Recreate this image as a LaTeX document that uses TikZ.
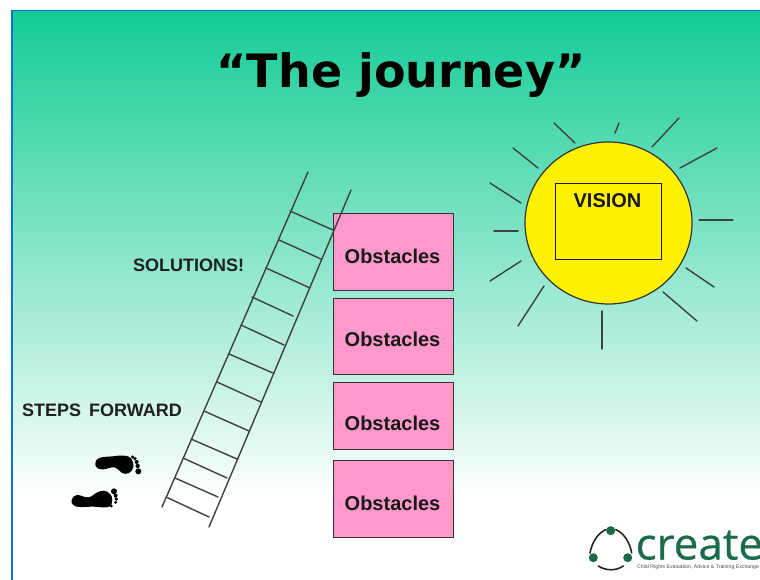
\documentclass[tikz,border=0pt]{standalone}
\usepackage{fontspec}
\setmainfont{Liberation Sans}
\newfontfamily\logofont[FakeBold=0.5]{Open Sans}
\newfontfamily\titlefont{DejaVu Sans}
\definecolor{topgreen}{HTML}{14CC96}
\definecolor{midgreen}{HTML}{A0E0C3}
\definecolor{frameblue}{HTML}{0A72C8}
\definecolor{pinkbox}{HTML}{FF99CC}
\definecolor{logogreen}{HTML}{1B6B4A}
\tikzset{
  x=1pt,y=-1pt,
  line/.style={draw=black!75,line width=1.4pt,line cap=round},
  obstacle/.style={draw=black!80,line width=1.4pt,fill=pinkbox,minimum width=120pt,inner sep=0pt},
  obstaclelabel/.style={font=\fontsize{20}{22}\selectfont\bfseries,text=black!90,inner sep=0pt,anchor=center},
  side/.style={font=\fontsize{18}{20}\selectfont\bfseries,text=black!88,inner sep=0pt,anchor=center},
  logoarc/.style={draw=black!85,line width=1.6pt,line cap=round},
  footfill/.style={fill=black,draw=none},
}
\begin{document}
\begin{tikzpicture}
\useasboundingbox (0,0) rectangle (760,580);
% slide
\fill[white] (0,0) rectangle (760,580);
\shade[top color=topgreen,middle color=midgreen,bottom color=white] (12,11) rectangle (760,500);
\draw[frameblue,line width=1.8pt] (12,580) -- (12,10.5) -- (760,10.5);
% title
\node[inner sep=0pt,text=black,font=\titlefont\fontsize{46}{50}\selectfont\bfseries] (title) at (401,75) {“The journey”};
% ladder
\coordinate (railLtop) at (308,172); \coordinate (railLbot) at (162,507);
\coordinate (railRtop) at (351,190); \coordinate (railRbot) at (209,527);
% obstacles
\node[obstacle,minimum height=77pt] (o1) at (393.5,252) {};
\node[obstacle,minimum height=76pt] (o2) at (393.5,336.5) {};
\node[obstacle,minimum height=67pt] (o3) at (393.5,416) {};
\node[obstacle,minimum height=77pt] (o4) at (393.5,499) {};
\node[obstaclelabel] at (392.5,256) {Obstacles};
\node[obstaclelabel] at (392.5,339) {Obstacles};
\node[obstaclelabel] at (392.5,423) {Obstacles};
\node[obstaclelabel] at (392.5,503) {Obstacles};
\draw[line] (railLtop) -- (railLbot);
\draw[line] (railRtop) -- (railRbot);
\foreach \a/\b/\c/\d in {290/211/333/230,279/240/321/259,266/268/310/288,252/297/293/316,241/325/284/345,229/354/273/373,217/382/261/402,204/411/249/431,191/439/237/459,183/458/227/478,175/478/218/497,166/497/209/517}
  \draw[line] (\a,\b) -- (\c,\d);
% labels
\node[side] at (188.5,265) {SOLUTIONS!};
\node[side] at (102,410) {STEPS\hspace{3pt} FORWARD};
% sun
\fill[yellow] (608.5,223) ellipse [x radius=83.5,y radius=81];
\draw[black!80,line width=1.2pt] (608.5,223) ellipse [x radius=83.5,y radius=81];
\node[draw=black!90,line width=1.4pt,fill=yellow,minimum width=106.5pt,minimum height=76.5pt,inner sep=0pt] (visionbox) at (608.5,221.5) {};
\node[inner sep=0pt,text=black!90,font=\fontsize{20}{22}\selectfont\bfseries] (vision) at (607.5,200.5) {VISION};
\foreach \a/\b/\c/\d in {554/123/575/143,619/123/615/133,679/118/652/147,717/148/680/168,513/148/538/168,490/183/521/203,699/220/733/220,494/231/518/231,521/261/490/281,686/268/714/287,544/286/518/326,663/292/697/321,602/311/602/349}
  \draw[line] (\a,\b) -- (\c,\d);
% footprints (coordinates in 3x zoom units)
\begin{scope}[shift={(0,380)},x=0.3333pt,y=-0.3333pt]
  \fill[footfill] plot[smooth cycle,tension=0.7] coordinates {(286,250) (298,234) (338,229) (372,227) (394,236) (400,262) (385,280) (365,278) (345,262) (310,268) (292,264)};
  \foreach \p/\r in {{(398,231)}/5,{(405,236)}/5.5,{(410,246)}/6,{(413,258)}/6.5,{(415,274)}/9}
    \fill[footfill] \p circle [radius=\r*0.3333pt];
  \fill[footfill] plot[smooth cycle,tension=0.7] coordinates {(215,360) (230,345) (265,352) (290,338) (312,332) (330,342) (337,360) (325,381) (280,380) (240,381) (220,375)};
  \foreach \p/\r in {{(342,334)}/9,{(347,347)}/6,{(349,357)}/5.5,{(347,367)}/5,{(334,378)}/5}
    \fill[footfill] \p circle [radius=\r*0.3333pt];
\end{scope}
% logo
\draw[logoarc] (590,553) .. controls (592,542) and (598,533) .. (606,529.5);
\draw[logoarc] (631.7,553) .. controls (629.7,542) and (623.7,533) .. (615.7,529.5);
\draw[logoarc] (598.3,566) .. controls (606,571) and (616,571) .. (623.3,566);
\fill[logogreen] (610.7,530.7) circle [radius=4.5];
\fill[logogreen] (593.3,557.7) circle [radius=4.5];
\fill[logogreen] (627.7,557.7) circle [radius=4.5];
\node[inner sep=0pt,anchor=base west,text=logogreen,font=\logofont\fontsize{44}{44}\selectfont] (create) at (635.5,559.5) {create};
\node[inner sep=0pt,anchor=base west,text=black!70,font=\fontsize{5.2}{5.5}\selectfont] (strap) at (637,568) {Child Rights Evaluation, Advice \& Training Exchange};
\end{tikzpicture}
\end{document}
